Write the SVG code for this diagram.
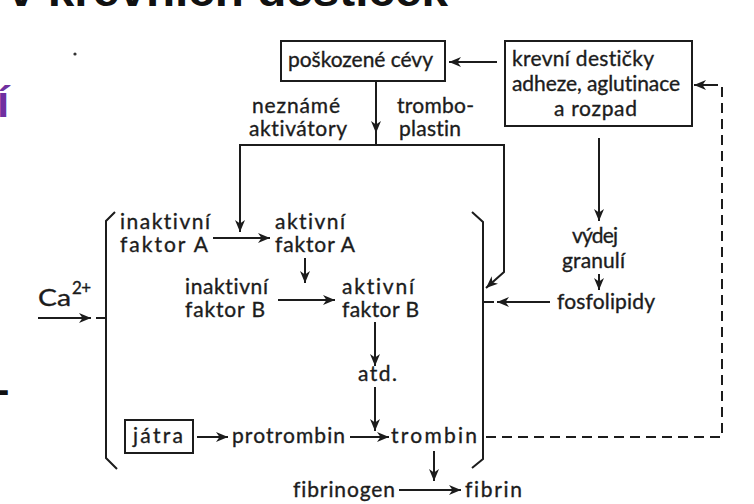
<svg xmlns="http://www.w3.org/2000/svg" width="754" height="504" viewBox="0 0 754 504">
<style>
.t{font-family:Lato,"Liberation Sans",sans-serif;font-size:21px;fill:#1c1c1c;stroke:#1c1c1c;stroke-width:0.35;font-variant-ligatures:none;font-feature-settings:"liga" 0}
.sup{font-size:17px}
.box{fill:none;stroke:#1c1c1c;stroke-width:2}
.ln{fill:none;stroke:#1c1c1c;stroke-width:2}
.arr{marker-end:url(#ah)}
.dash{stroke-dasharray:10 6}
.title{font-family:"Liberation Sans",Arial,sans-serif;font-weight:bold;font-size:44px;fill:#111}
</style>
<defs>
<marker id="ah" markerUnits="userSpaceOnUse" markerWidth="13" markerHeight="11" refX="12" refY="5.5" orient="auto">
<path d="M0,0.5 L12,5.5 L0,10.5 L3.5,5.5 Z" fill="#1c1c1c"/>
</marker>
</defs>
<rect width="754" height="504" fill="#fff"/>
<text class="title" x="8" y="6" textLength="440" lengthAdjust="spacingAndGlyphs">v krevních destiček</text>
<text x="-3" y="117" style="font-family:'Liberation Sans',Arial,sans-serif;font-weight:bold;font-size:44px;fill:#7030A0">í</text>
<text x="-4" y="403" style="font-family:'Liberation Sans',Arial,sans-serif;font-weight:bold;font-size:40px;fill:#111">-</text>
<circle cx="75" cy="54" r="1.6" fill="#333"/>
<g id="connectors">
<line class="ln arr" x1="497" y1="62" x2="449" y2="62"/>
<line class="ln arr" x1="376" y1="81" x2="376" y2="133"/>
<line class="ln" x1="376" y1="132" x2="376" y2="145"/>
<path class="ln arr" d="M376,145 H240 V232"/>
<path class="ln arr" d="M376,145 H504 V272 L486,288"/>
<line class="ln arr" x1="213" y1="238" x2="270" y2="238"/>
<line class="ln arr" x1="305" y1="258" x2="305" y2="283"/>
<line class="ln arr" x1="278" y1="300" x2="335" y2="300"/>
<line class="ln arr" x1="375" y1="322" x2="375" y2="366"/>
<line class="ln arr" x1="375" y1="387" x2="375" y2="431"/>
<line class="ln arr" x1="197" y1="437" x2="228" y2="437"/>
<line class="ln arr" x1="350" y1="437" x2="389" y2="437"/>
<line class="ln arr" x1="434" y1="451" x2="434" y2="481"/>
<line class="ln arr" x1="399" y1="490" x2="461" y2="490"/>
<line class="ln arr" x1="38" y1="318" x2="91" y2="318"/>
<line class="ln" x1="96" y1="318" x2="106" y2="318"/>
<line class="ln arr" x1="550" y1="302" x2="497" y2="302"/>
<line class="ln" x1="483" y1="302" x2="494" y2="302"/>
<line class="ln arr" x1="599" y1="138" x2="599" y2="221"/>
<line class="ln arr" x1="599" y1="274" x2="599" y2="290"/>
<path class="ln dash" d="M486,437 H722 V85 H706"/>
<line class="ln arr" x1="708" y1="85" x2="694" y2="85"/>
</g>
<g id="brackets">
<path class="ln" d="M115,212 L106,221 V458 L117,469"/>
<path class="ln" d="M472,212 L483,222 V459 L472,468"/>
</g>
<g id="poskozene-cevy">
<rect class="box" x="281" y="41" width="164" height="40"/>
<text class="t" x="288" y="67" textLength="145">poškozené cévy</text>
</g>
<g id="krevni-desticky">
<rect class="box" x="505" y="41" width="187" height="85"/>
<text class="t" x="512" y="66" textLength="142">krevní destičky</text>
<text class="t" x="512" y="91" textLength="168">adheze, aglutinace</text>
<text class="t" x="554" y="116" textLength="83">a rozpad</text>
</g>
<g id="nezname-aktivatory">
<text class="t" x="252" y="113" textLength="88">neznámé</text>
<text class="t" x="249" y="136" textLength="98">aktivátory</text>
</g>
<g id="tromboplastin">
<text class="t" x="397" y="113" textLength="77">trombo-</text>
<text class="t" x="399" y="136" textLength="62">plastin</text>
</g>
<g id="inaktivni-faktor-a">
<text class="t" x="120" y="229" textLength="90">inaktivní</text>
<text class="t" x="120" y="252" textLength="88">faktor A</text>
</g>
<g id="aktivni-faktor-a">
<text class="t" x="275" y="229" textLength="70">aktivní</text>
<text class="t" x="275" y="252" textLength="80">faktor A</text>
</g>
<g id="inaktivni-faktor-b">
<text class="t" x="185" y="294" textLength="83">inaktivní</text>
<text class="t" x="185" y="317" textLength="80">faktor B</text>
</g>
<g id="aktivni-faktor-b">
<text class="t" x="342" y="294" textLength="72">aktivní</text>
<text class="t" x="342" y="317" textLength="77">faktor B</text>
</g>
<g id="ca">
<text class="t" x="38" y="306" textLength="33" lengthAdjust="spacingAndGlyphs" style="font-size:24px">Ca</text>
<text class="t sup" x="72" y="294" textLength="19">2+</text>
</g>
<g id="vydej-granuli">
<text class="t" x="572" y="243" textLength="46">výdej</text>
<text class="t" x="562" y="268" textLength="63">granulí</text>
</g>
<g id="fosfolipidy">
<text class="t" x="557" y="309" textLength="98">fosfolipidy</text>
</g>
<g id="atd">
<text class="t" x="358" y="381" textLength="39">atd.</text>
</g>
<g id="jatra">
<rect class="box" x="125" y="420" width="68" height="33"/>
<text class="t" x="133" y="443" textLength="50">játra</text>
</g>
<g id="protrombin">
<text class="t" x="232" y="443" textLength="113">protrombin</text>
</g>
<g id="trombin">
<text class="t" x="391" y="443" textLength="86">trombin</text>
</g>
<g id="fibrinogen">
<text class="t" x="293" y="497" textLength="102">fibrinogen</text>
</g>
<g id="fibrin">
<text class="t" x="465" y="497" textLength="57">fibrin</text>
</g>
</svg>
